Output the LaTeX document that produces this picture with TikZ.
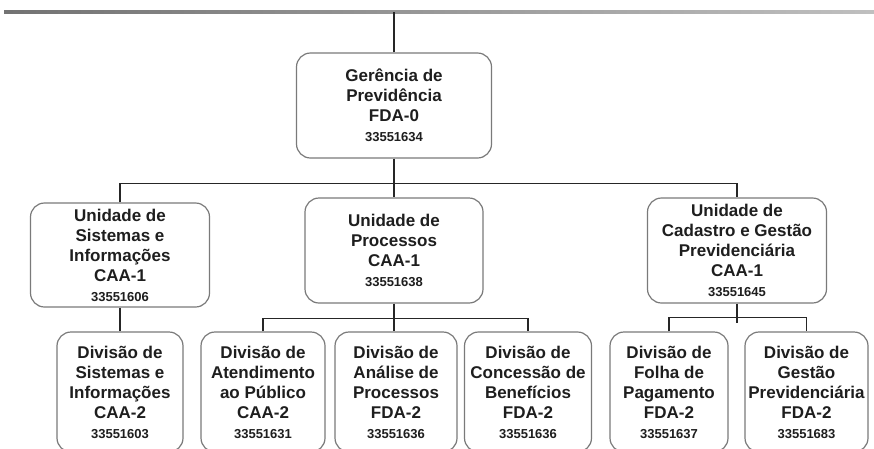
\documentclass[tikz,border=0pt]{standalone}
\usepackage{fontspec}
\setmainfont{Liberation Sans}
\definecolor{boxgray}{HTML}{7A7A7A}
\definecolor{txt}{HTML}{1E1E1E}
\newcommand\idnum[1]{{\fontsize{13}{14}\selectfont #1}}
\begin{document}
\begin{tikzpicture}[x=1pt,y=-1pt,
  box/.style={draw=boxgray, line width=1.2pt, rounded corners=14pt, fill=white,
    align=center, text=txt, font=\bfseries\fontsize{17}{20}\selectfont, inner sep=0pt},
  topbox/.style={box, minimum width=#1, minimum height=105pt},
  botbox/.style={box, minimum width=#1, minimum height=120pt},
  conn/.style={line width=1.3pt, draw=black!85}]
\useasboundingbox (0,0) rectangle (874,448);
\clip (0,0) rectangle (874,448);
\fill[white] (0,0) rectangle (874,448);
% top gray rule
\coordinate (tl) at (4,12);
\coordinate (tr) at (874,12);
\shade[left color=black!55, right color=black!25] (4,10.9) rectangle (874,13.2);
% nodes
\node[topbox=195pt] (ger) at (394,105.5) {Gerência de\\Previdência\\FDA-0\\\idnum{33551634}};
\node[topbox=179pt, minimum height=104pt] (usi) at (120,255) {Unidade de\\Sistemas e\\Informações\\CAA-1\\\idnum{33551606}};
\node[topbox=178pt] (up) at (394,250.5) {Unidade de\\Processos\\CAA-1\\\idnum{33551638}};
\node[topbox=179pt] (ucg) at (737,250.5) {Unidade de\\Cadastro e Gestão\\Previdenciária\\CAA-1\\\idnum{33551645}};
\node[botbox=126pt] (dsi) at (120,392) {Divisão de\\Sistemas e\\Informações\\CAA-2\\\idnum{33551603}};
\node[botbox=124pt] (dat) at (263,392) {Divisão de\\Atendimento\\ao Público\\CAA-2\\\idnum{33551631}};
\node[botbox=122pt] (dan) at (396,392) {Divisão de\\Análise de\\Processos\\FDA-2\\\idnum{33551636}};
\node[botbox=127pt] (dcb) at (528,392) {Divisão de\\Concessão de\\Benefícios\\FDA-2\\\idnum{33551636}};
\node[botbox=118pt] (dfp) at (669,392) {Divisão de\\Folha de\\Pagamento\\FDA-2\\\idnum{33551637}};
\node[botbox=123pt] (dgp) at (806.5,392) {Divisão de\\Gestão\\Previdenciária\\FDA-2\\\idnum{33551683}};
% connectors
\draw[conn] (ger.north) -- (ger.north |- tl);
\draw[conn] (usi.north) -- ++(0,-19) -| (ucg.north);
\draw[conn] (ger.south) -- (up.north);
\draw[conn] (usi.south) -- (dsi.north);
\draw[conn] (dat.north) -- ++(0,-13) -| (dcb.north);
\draw[conn] (up.south) -- (up.south |- dan.north);
\coordinate (c3) at (737,323);
\draw[conn] (ucg.south) -- (c3);
\draw[conn] (dfp.north) -- ++(0,-14) -| (dgp.north);
\end{tikzpicture}
\end{document}
